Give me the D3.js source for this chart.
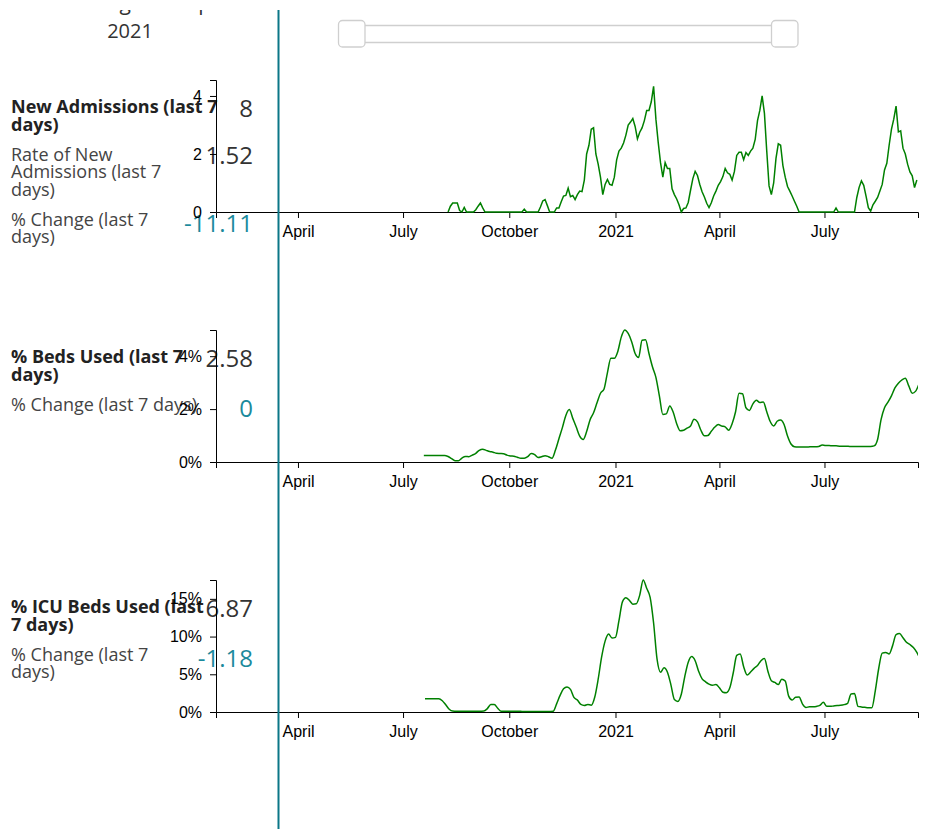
<!DOCTYPE html>
<html>
<head>
<meta charset="utf-8">
<script src="https://cdn.jsdelivr.net/npm/d3@7"></script>
<style>
  body { margin: 0; background: #fff; }
  svg { display: block; }
</style>
</head>
<body>
<svg id="chart" width="928" height="829"></svg>
<script>
const parseDay = d3.timeParse("%Y-%m-%d");

// time window shown on every chart, and the date under the cursor line
const domainStart = "2020-01-21";
const domainEnd = "2021-09-20";
const cursorDate = "2020-03-15";

// new admissions rate, one value every 2 days
const admStart = "2020-08-09";
const admStep = 2;
const admRate = [
  0, 0.2, 0.31, 0.31, 0.31, 0.05, 0, 0.16, 0, 0, 0, 0, 0.08, 0.2, 0.31, 0.14, 0,
  0, 0, 0, 0, 0, 0, 0, 0, 0, 0, 0, 0, 0, 0, 0, 0,
  0.1, 0, 0, 0, 0, 0, 0,
  0.17, 0.38, 0.43, 0.22, 0, 0, 0, 0.14, 0.14, 0.35, 0.55, 0.57, 0.82, 0.53, 0.57, 0.43,
  0.6, 0.72, 0.7, 1.1, 2.0, 2.3, 2.85, 2.9, 2.0, 1.65, 1.2, 0.6, 0.95, 1.12, 0.95, 0.92,
  1.2, 1.8, 2.1, 2.2, 2.38, 2.65, 3.0, 3.1, 3.22, 2.95, 2.52, 2.75, 2.9, 3.15, 3.5, 3.5,
  3.8, 4.33, 3.2, 2.4, 1.7, 1.2, 1.7, 1.5, 1.5, 0.8, 0.6, 0.45, 0.25, 0, 0.12, 0.14,
  0.33, 0.75, 1.15, 1.4, 1.26, 0.95, 0.7, 0.52, 0.3, 0.15, 0.32, 0.55, 0.72, 0.92, 1.05, 1.22,
  1.5, 1.35, 1.3, 1.1, 1.4, 1.95, 2.06, 2.06, 1.8, 2.05, 1.95, 2.1, 2.2, 2.5, 3.15, 3.5,
  4.0, 3.4, 2.1, 0.9, 0.6, 1.0, 1.85, 2.35, 2.3, 1.6, 1.2, 0.88, 0.72, 0.55, 0.37, 0.2, 0,
  0, 0, 0, 0, 0, 0, 0, 0, 0, 0, 0, 0, 0, 0, 0,
  0.14, 0, 0, 0, 0, 0, 0, 0, 0,
  0.5, 0.85, 1.07, 0.92, 0.55, 0.15, 0.03, 0.25, 0.37, 0.5, 0.72, 0.95, 1.45, 1.68, 2.3, 2.85,
  3.2, 3.65, 2.76, 2.8, 2.2, 2.0, 1.65, 1.38, 1.25, 0.84, 1.1
];
const admMax = 4.55;

// % beds used, one value every 3 days
const bedsStart = "2020-07-19";
const bedsStep = 3;
const bedsPct = [
  0.25, 0.25, 0.25, 0.25, 0.25, 0.25, 0.25, 0.21, 0.13, 0.05, 0.05, 0.15, 0.21, 0.2, 0.26, 0.33,
  0.44, 0.48, 0.44, 0.4, 0.37, 0.33, 0.32, 0.31, 0.26, 0.23, 0.22, 0.18, 0.14, 0.14, 0.2, 0.32,
  0.28, 0.17, 0.2, 0.24, 0.2, 0.14, 0.45, 0.88, 1.3, 1.76, 1.98, 1.65, 1.32, 0.98, 0.85, 1.15,
  1.6, 1.86, 2.24, 2.6, 2.75, 3.37, 3.92, 3.92, 4.18, 4.72, 4.99, 4.86, 4.55, 4.1, 3.95, 4.6,
  4.62, 4.1, 3.6, 3.2, 2.5, 1.8, 1.82, 2.12, 1.88, 1.45, 1.18, 1.2, 1.28, 1.36, 1.62, 1.52,
  1.2, 0.99, 1.0, 1.16, 1.32, 1.42, 1.36, 1.33, 1.2, 1.45, 1.9, 2.6, 2.58, 2.05, 1.95, 2.2,
  2.33, 2.25, 2.27, 1.9, 1.53, 1.36, 1.54, 1.59, 1.42, 0.98, 0.68, 0.58, 0.57, 0.57, 0.57, 0.57,
  0.58, 0.58, 0.59, 0.64, 0.62, 0.62, 0.61, 0.61, 0.6, 0.6, 0.6, 0.59, 0.59, 0.59, 0.59, 0.59,
  0.59, 0.59, 0.61, 0.85, 1.6, 2.05, 2.26, 2.5, 2.8, 2.98, 3.1, 3.17, 2.88, 2.6, 2.68, 2.97
];

// % ICU beds used, one value every 3 days
const icuStart = "2020-07-20";
const icuStep = 3;
const icuPct = [
  1.77, 1.77, 1.77, 1.77, 1.77, 1.5, 0.95, 0.37, 0.12, 0.09, 0.09, 0.09, 0.09, 0.09, 0.09, 0.1,
  0.11, 0.12, 0.45, 1.0, 1.0, 0.5, 0.09, 0.09, 0.09, 0.09, 0.09, 0.09, 0.08, 0.07, 0.06, 0.05,
  0.05, 0.05, 0.06, 0.07, 0.08, 0.09, 1.08, 2.2, 3.07, 3.32, 3.0, 1.95, 1.58, 1.0, 0.87, 1.0,
  0.9, 1.95, 4.35, 7.3, 9.4, 10.35, 9.8, 9.9, 12.1, 14.6, 15.14, 14.8, 14.3, 14.35, 15.5, 17.5,
  16.4, 15.2, 11.8, 7.0, 5.28, 5.85, 5.28, 3.6, 1.65, 1.4, 2.35, 4.7, 6.6, 7.35, 6.8, 5.4,
  4.4, 4.0, 3.7, 3.55, 3.65, 3.2, 2.63, 2.56, 3.2, 5.2, 7.5, 7.7, 6.0, 4.9, 5.3, 5.78,
  6.16, 6.8, 7.09, 5.4, 4.15, 3.92, 3.65, 4.35, 4.1, 2.1, 1.58, 1.96, 2.0, 1.05, 0.6, 0.7,
  0.7, 0.74, 0.87, 1.28, 0.75, 0.75, 0.8, 0.85, 0.89, 0.98, 1.14, 2.4, 2.45, 0.75, 0.67, 0.62,
  0.58, 0.58, 2.8, 5.8, 7.8, 7.9, 7.7, 8.8, 10.25, 10.4, 9.85, 9.25, 8.95, 8.55, 7.9, 7.0
];

// side panel texts, one entry per chart
const titles = [
  ["New Admissions (last 7", "days)"],
  ["% Beds Used (last 7", "days)"],
  ["% ICU Beds Used (last", "7 days)"]
];
const rowLabels = [
  [["Rate of New", "Admissions (last 7", "days)"], ["% Change (last 7", "days)"]],
  [["% Change (last 7 days)"]],
  [["% Change (last 7", "days)"]]
];
const headValues = ["8", "2.58", "6.87"];
const rowValues = [["1.52", "-11.11"], ["0"], ["-1.18"]];

const headerCut = "Showing data up to";
const headerYear = "2021";

const svg = d3.select("#chart");
const textFont = "'Open Sans', 'Noto Sans', sans-serif";
const axisFont = "'Liberation Sans', Arial, sans-serif";
const teal = "#1b8a9c";

const x = d3.scaleTime()
  .domain([parseDay(domainStart), parseDay(domainEnd)])
  .range([216, 918]);

function toSeries(start, step, values) {
  const t0 = parseDay(start);
  return values.map((v, i) => ({ date: d3.timeDay.offset(t0, i * step), value: v }));
}

const charts = [
  { series: toSeries(admStart, admStep, admRate), max: admMax, fmt: d => d, curve: d3.curveLinear },
  { series: toSeries(bedsStart, bedsStep, bedsPct), max: d3.max(bedsPct), fmt: d => d + "%", curve: d3.curveMonotoneX },
  { series: toSeries(icuStart, icuStep, icuPct), max: d3.max(icuPct), fmt: d => d + "%", curve: d3.curveMonotoneX }
];

const lineH = 17.5;

charts.forEach((c, k) => {
  const top = 80 + k * 250;
  const bottom = top + 132;
  const y = d3.scaleLinear().domain([0, c.max]).range([bottom, top]);
  const g = svg.append("g");

  // titles and rows on the left
  let base = top + 33;
  const tt = g.append("text").attr("font-family", textFont).attr("font-size", 18)
    .attr("font-weight", "bold").attr("fill", "#222");
  titles[k].forEach((s, i) => tt.append("tspan").attr("x", 11).attr("y", base + i * lineH).text(s));
  g.append("text").attr("x", 253).attr("y", base + 4).attr("text-anchor", "end")
    .attr("font-family", textFont).attr("font-size", 24).attr("fill", "#333").text(headValues[k]);
  base += (titles[k].length - 1) * lineH + 30;

  rowLabels[k].forEach((lines, r) => {
    const t = g.append("text").attr("font-family", textFont).attr("font-size", 18).attr("fill", "#444");
    lines.forEach((s, i) => t.append("tspan").attr("x", 11).attr("y", base + i * lineH).text(s));
    const isChange = r === rowLabels[k].length - 1;
    g.append("text").attr("x", 253).attr("y", base + (isChange ? 6.5 : 3.5))
      .attr("text-anchor", "end").attr("font-family", textFont).attr("font-size", 24)
      .attr("fill", isChange ? teal : "#333").text(rowValues[k][r]);
    base += (lines.length - 1) * lineH + 30;
  });

  // axes
  g.append("g").attr("transform", `translate(0,${bottom})`)
    .call(d3.axisBottom(x).tickPadding(8))
    .attr("font-size", 16).attr("font-family", axisFont);
  g.append("g").attr("transform", "translate(216,0)")
    .call(d3.axisLeft(y).ticks(3).tickFormat(c.fmt).tickPadding(8))
    .attr("font-size", 16).attr("font-family", axisFont);

  // series line, clipped to the plot
  const clipId = "clip" + k;
  g.append("clipPath").attr("id", clipId).append("rect")
    .attr("x", 216).attr("y", top - 2).attr("width", 702).attr("height", bottom - top + 4);
  g.append("path").datum(c.series)
    .attr("clip-path", `url(#${clipId})`)
    .attr("fill", "none").attr("stroke", "green").attr("stroke-width", 1.5)
    .attr("d", d3.line().x(d => x(d.date)).y(d => y(d.value)).curve(c.curve));
});

// header: date text and range slider
svg.append("text").attr("x", 48).attr("y", 9.5).attr("font-family", textFont)
  .attr("font-size", 21).attr("fill", "#333").text(headerCut);
svg.append("rect").attr("x", 0).attr("y", 0).attr("width", 928).attr("height", 10).attr("fill", "#fff");
svg.append("text").attr("x", 130).attr("y", 37.5).attr("text-anchor", "middle")
  .attr("font-family", textFont).attr("font-size", 20).attr("fill", "#333").text(headerYear);

const slider = svg.append("g").attr("fill", "#fff").attr("stroke", "#cfcfcf").attr("stroke-width", 1.3);
slider.append("rect").attr("x", 360).attr("y", 25.5).attr("width", 416).attr("height", 17).attr("rx", 2);
slider.append("rect").attr("x", 338.5).attr("y", 20.5).attr("width", 26.5).attr("height", 26.5).attr("rx", 4);
slider.append("rect").attr("x", 771.5).attr("y", 20.5).attr("width", 26.5).attr("height", 26.5).attr("rx", 4);

// cursor line
const cx = Math.round(x(parseDay(cursorDate))) + 0.5;
svg.append("line").attr("x1", cx).attr("x2", cx).attr("y1", 10).attr("y2", 829)
  .attr("stroke", "#0b7787").attr("stroke-width", 2);
</script>
</body>
</html>
